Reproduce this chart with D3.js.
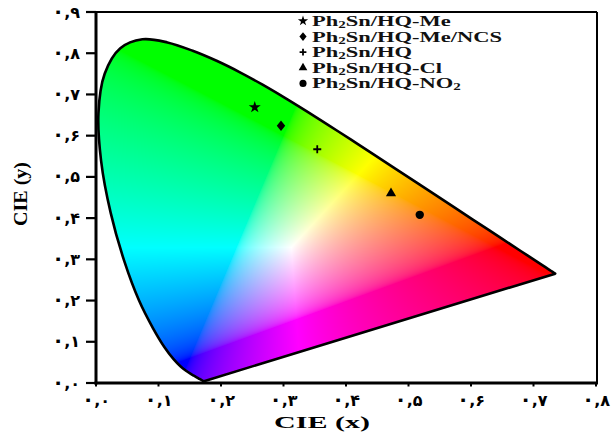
<!DOCTYPE html>
<html>
<head>
<meta charset="utf-8">
<script src="https://cdn.jsdelivr.net/npm/d3@7"></script>
<style>
  html, body { margin: 0; padding: 0; background: #fff; }
  svg { display: block; }
</style>
</head>
<body>
<svg id="chart" width="614" height="432"></svg>
<script>
// CIE 1931 2° spectral locus (chromaticity x, y), 380–700 nm
const wavelengths = [380,385,390,395,400,405,410,415,420,425,430,435,440,445,450,455,460,465,470,475,480,485,490,495,500,505,510,515,520,525,530,535,540,545,550,555,560,565,570,575,580,585,590,595,600,605,610,615,620,625,630,635,640,645,650,655,660,665,670,680,690,700];
const locusX = [0.1741,0.1740,0.1738,0.1736,0.1733,0.1730,0.1726,0.1721,0.1714,0.1703,0.1689,0.1669,0.1644,0.1611,0.1566,0.1510,0.1440,0.1355,0.1241,0.1096,0.0913,0.0687,0.0454,0.0235,0.0082,0.0039,0.0139,0.0389,0.0743,0.1142,0.1547,0.1929,0.2296,0.2658,0.3016,0.3373,0.3731,0.4087,0.4441,0.4788,0.5125,0.5448,0.5752,0.6029,0.6270,0.6482,0.6658,0.6801,0.6915,0.7006,0.7079,0.7140,0.7190,0.7230,0.7260,0.7283,0.7300,0.7311,0.7320,0.7334,0.7344,0.7347];
const locusY = [0.0050,0.0050,0.0049,0.0049,0.0048,0.0048,0.0048,0.0048,0.0051,0.0058,0.0069,0.0086,0.0109,0.0138,0.0177,0.0227,0.0297,0.0399,0.0578,0.0868,0.1327,0.2007,0.2950,0.4127,0.5384,0.6548,0.7502,0.8120,0.8338,0.8262,0.8059,0.7816,0.7543,0.7243,0.6923,0.6589,0.6245,0.5896,0.5547,0.5202,0.4866,0.4544,0.4242,0.3965,0.3725,0.3514,0.3340,0.3197,0.3083,0.2993,0.2920,0.2859,0.2809,0.2770,0.2740,0.2717,0.2700,0.2689,0.2680,0.2666,0.2656,0.2653];

// Measured chromaticity coordinates of the complexes
const seriesNames  = ["Ph2Sn/HQ-Me", "Ph2Sn/HQ-Me/NCS", "Ph2Sn/HQ", "Ph2Sn/HQ-Cl", "Ph2Sn/HQ-NO2"];
const seriesX      = [0.254, 0.296, 0.354, 0.472, 0.518];
const seriesY      = [0.669, 0.624, 0.567, 0.460, 0.408];
const seriesSymbol = ["star", "diamond", "plus", "triangle", "circle"];

// Axis ticks (Persian numerals)
const xTicks = [0, 0.1, 0.2, 0.3, 0.4, 0.5, 0.6, 0.7, 0.8];
const xTickLabels = ["۰,۰","۰,۱","۰,۲","۰,۳","۰,۴","۰,۵","۰,۶","۰,۷","۰,۸"];
const yTicks = [0, 0.1, 0.2, 0.3, 0.4, 0.5, 0.6, 0.7, 0.8, 0.9];
const yTickLabels = ["۰,۰","۰,۱","۰,۲","۰,۳","۰,۴","۰,۵","۰,۶","۰,۷","۰,۸","۰,۹"];

(function draw() {
  const svg = d3.select("#chart");
  const pL = 96, pR = 597, pT = 12, pB = 383;
  const x = d3.scaleLinear().domain([0, 0.8]).range([pL, pL + 500]);
  const y = d3.scaleLinear().domain([0, 0.9]).range([pB, pT]);

  svg.append("rect").attr("width", 614).attr("height", 432).attr("fill", "#fff");

  // Horseshoe outline (closed by the purple line)
  const locus = wavelengths.map((w, i) => [locusX[i], locusY[i]]);
  const line = d3.line().x(d => x(d[0])).y(d => y(d[1])).curve(d3.curveCatmullRom.alpha(0.5));
  const locusPath = line(locus) + "Z";

  const defs = svg.append("defs");
  defs.append("clipPath").attr("id", "gamut").append("path").attr("d", locusPath);

  // Colour field: chromaticity -> XYZ (Y = 1) -> sRGB, clipped and brightness-normalised
  const cw = pR - pL, ch = pB - pT;
  const canvas = document.createElement("canvas");
  canvas.width = cw; canvas.height = ch;
  const ctx = canvas.getContext("2d");
  const img = ctx.createImageData(cw, ch);
  const gam = v => v <= 0.0031308 ? 12.92 * v : 1.055 * Math.pow(v, 1 / 2.4) - 0.055;
  for (let py = 0; py < ch; py++) {
    const cy = y.invert(pT + py + 0.5);
    for (let px = 0; px < cw; px++) {
      const cx = x.invert(pL + px + 0.5);
      const k = (py * cw + px) * 4;
      if (cy <= 0.001) { img.data[k + 3] = 0; continue; }
      const X = cx / cy, Y = 1, Z = (1 - cx - cy) / cy;
      let r = 3.2406 * X - 1.5372 * Y - 0.4986 * Z;
      let g = -0.9689 * X + 1.8758 * Y + 0.0415 * Z;
      let b = 0.0557 * X - 0.2040 * Y + 1.0570 * Z;
      r = Math.max(r, 0); g = Math.max(g, 0); b = Math.max(b, 0);
      const m = Math.max(r, g, b) || 1;
      img.data[k]     = Math.round(255 * gam(r / m));
      img.data[k + 1] = Math.round(255 * gam(g / m));
      img.data[k + 2] = Math.round(255 * gam(b / m));
      img.data[k + 3] = 255;
    }
  }
  ctx.putImageData(img, 0, 0);

  svg.append("image")
    .attr("x", pL).attr("y", pT).attr("width", cw).attr("height", ch)
    .attr("preserveAspectRatio", "none")
    .attr("href", canvas.toDataURL())
    .attr("clip-path", "url(#gamut)");

  svg.append("path").attr("d", locusPath)
    .attr("fill", "none").attr("stroke", "#000").attr("stroke-width", 2.6)
    .attr("stroke-linejoin", "round");

  // Frame
  svg.append("line").attr("x1", pL).attr("x2", pR).attr("y1", pT).attr("y2", pT)
    .attr("stroke", "#000").attr("stroke-width", 2);
  svg.append("line").attr("x1", pR).attr("x2", pR).attr("y1", pT).attr("y2", pB)
    .attr("stroke", "#000").attr("stroke-width", 2);
  svg.append("line").attr("x1", pL).attr("x2", pL).attr("y1", pT - 1).attr("y2", pB + 1.5)
    .attr("stroke", "#000").attr("stroke-width", 3);
  svg.append("line").attr("x1", pL - 1.5).attr("x2", pR + 1).attr("y1", pB).attr("y2", pB)
    .attr("stroke", "#000").attr("stroke-width", 3);

  // Tick label: the leading zero dot is set a little larger, like a bold numeral
  const tickFont = "'DejaVu Sans', sans-serif";
  function tickText(sel, label) {
    sel.append("tspan").attr("font-size", 20).text(label[0]);
    sel.append("tspan").text(label.slice(1));
  }

  // Y ticks and labels
  svg.append("g").selectAll("line").data(yTicks).join("line")
    .attr("x1", pL - 10).attr("x2", pL).attr("y1", d => y(d)).attr("y2", d => y(d))
    .attr("stroke", "#000").attr("stroke-width", 2.2);
  svg.append("g").selectAll("text").data(yTicks).join("text")
    .attr("x", 80).attr("y", d => y(d) + 5.5)
    .attr("text-anchor", "end").attr("direction", "ltr")
    .attr("font-family", tickFont).attr("font-weight", "bold").attr("font-size", 16)
    .each(function (d, i) { tickText(d3.select(this), yTickLabels[i]); });

  // X ticks and labels
  svg.append("g").selectAll("line").data(xTicks).join("line")
    .attr("x1", d => x(d)).attr("x2", d => x(d)).attr("y1", pB).attr("y2", pB + 3.5)
    .attr("stroke", "#000").attr("stroke-width", 2);
  svg.append("g").selectAll("text").data(xTicks).join("text")
    .attr("x", d => x(d)).attr("y", 406)
    .attr("text-anchor", "middle").attr("direction", "ltr")
    .attr("font-family", tickFont).attr("font-weight", "bold").attr("font-size", 16)
    .each(function (d, i) { tickText(d3.select(this), xTickLabels[i]); });

  // Axis titles
  const serif = "'Liberation Serif', 'Times New Roman', serif";
  svg.append("text").attr("x", 322).attr("y", 427.5)
    .attr("text-anchor", "middle").attr("font-family", serif).attr("font-weight", "bold")
    .attr("font-size", 16.5).attr("textLength", 96).attr("lengthAdjust", "spacingAndGlyphs")
    .text("CIE (x)");
  svg.append("text").attr("transform", "translate(27,194) rotate(-90)")
    .attr("text-anchor", "middle").attr("font-family", serif).attr("font-weight", "bold")
    .attr("font-size", 18).attr("textLength", 64).attr("lengthAdjust", "spacingAndGlyphs")
    .text("CIE (y)");

  // Marker shapes
  function marker(sel, kind, s) {
    if (kind === "star") {
      sel.append("path").attr("d", d3.symbol(d3.symbolStar, 45 * s * s)()).attr("fill", "#000");
    } else if (kind === "diamond") {
      sel.append("path").attr("d", d3.symbol(d3.symbolDiamond, 34 * s * s)())
        .attr("transform", "scale(1.35,0.95)").attr("fill", "#000");
    } else if (kind === "plus") {
      sel.append("path").attr("d", `M${-4 * s},0H${4 * s}M0,${-4 * s}V${4 * s}`)
        .attr("stroke", "#000").attr("stroke-width", 1.8).attr("fill", "none");
    } else if (kind === "triangle") {
      sel.append("path").attr("d", d3.symbol(d3.symbolTriangle, 45 * s * s)()).attr("fill", "#000");
    } else {
      sel.append("path").attr("d", d3.symbol(d3.symbolCircle, 55 * s * s)()).attr("fill", "#000");
    }
  }

  // Data points
  seriesNames.forEach((name, i) => {
    const g = svg.append("g").attr("transform", `translate(${x(seriesX[i])},${y(seriesY[i])})`);
    marker(g, seriesSymbol[i], 1);
  });

  // Legend (chemical formula digits set as subscripts)
  seriesNames.forEach((name, i) => {
    const base = 26 + i * 15.6;
    const mg = svg.append("g").attr("transform", `translate(303,${base - 5})`);
    marker(mg, seriesSymbol[i], 0.85);
    const t = svg.append("g").attr("transform", `translate(312,${base}) scale(1.5,1)`)
      .append("text").attr("font-family", serif).attr("font-weight", "bold")
      .attr("font-size", 15).attr("fill", "#111");
    const parts = name.split("2");
    parts.forEach((p, j) => {
      if (j > 0) t.append("tspan").attr("font-size", 10).attr("dy", 2).text("2");
      if (p) t.append("tspan").attr("dy", j > 0 ? -2 : 0).text(p);
    });
  });
})();
</script>
</body>
</html>
